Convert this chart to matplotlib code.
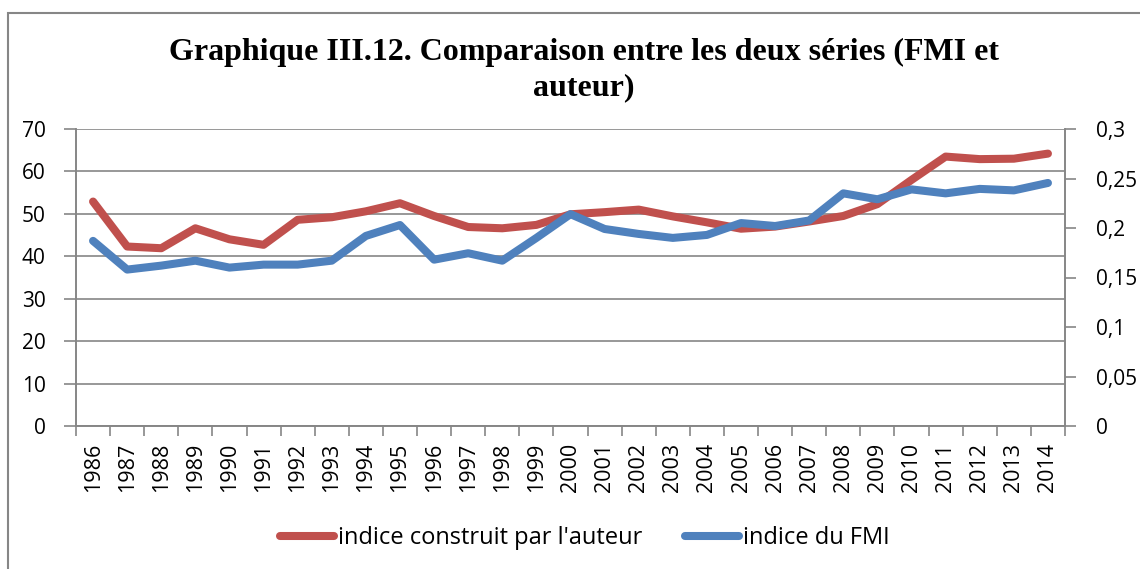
import numpy as np
import matplotlib
matplotlib.use("Agg")
import matplotlib.pyplot as plt
from matplotlib.patches import Rectangle
from matplotlib.ticker import FuncFormatter

years = list(range(1986, 2015))
# indice construit par l'auteur (axe de gauche)
auteur = [52.9, 42.3, 41.9, 46.6, 44.0, 42.7, 48.6, 49.2, 50.6, 52.5,
          49.5, 46.9, 46.6, 47.4, 49.9, 50.4, 51.0, 49.4, 48.0, 46.5,
          47.0, 48.2, 49.5, 52.3, 58.0, 63.5, 62.9, 63.0, 64.2]
# indice du FMI (axe de droite)
fmi = [0.187, 0.158, 0.162, 0.167, 0.160, 0.163, 0.163, 0.167, 0.192, 0.203,
       0.168, 0.1745, 0.167, 0.190, 0.214, 0.199, 0.194, 0.190, 0.193, 0.205,
       0.202, 0.2076, 0.235, 0.229, 0.239, 0.235, 0.2395, 0.238, 0.2455]

RED, BLUE, GREY = "#C0504D", "#4F81BD", "#868686"
plt.rcParams["font.family"] = ["Open Sans", "DejaVu Sans"]

fig = plt.figure(figsize=(11.4, 5.69), dpi=100)
fig.patches.append(Rectangle((8 / 1140, -0.05), 1.2, 1 - 13 / 569 + 0.05,
                             transform=fig.transFigure, fill=False,
                             ec=GREY, lw=1.5))
ax = fig.add_axes([76 / 1140, 1 - 426 / 569, (1065 - 76) / 1140, (426 - 129) / 569])
ax2 = ax.twinx()

x = np.arange(len(years))
l1, = ax.plot(x, auteur, c=RED, lw=5.8, solid_capstyle="round",
              solid_joinstyle="round", label="indice construit par l'auteur")
l2, = ax2.plot(x, fmi, c=BLUE, lw=5.8, solid_capstyle="round",
               solid_joinstyle="round", label="indice du FMI")

ax.set_xlim(-0.5, len(years) - 0.5)
ax.set_ylim(0, 70)
ax2.set_ylim(0, 0.3)
ax.set_yticks(range(0, 71, 10))
ax2.set_yticks(np.arange(0, 0.301, 0.05))
ax2.yaxis.set_major_formatter(FuncFormatter(
    lambda v, _: "0" if abs(v) < 1e-9 else f"{v:.2f}".rstrip("0").replace(".", ",")))
ax.set_xticks(x)
ax.set_xticklabels([str(y) for y in years], rotation=90, fontsize=15.5)
ax.set_xticks(np.arange(-0.5, len(years)), minor=True)
ax.tick_params(axis="x", which="major", length=0, pad=12)
ax.tick_params(axis="x", which="minor", length=7, color=GREY, width=1.2)
ax.tick_params(axis="y", length=9, color=GREY, width=1.2, labelsize=15, pad=13)
ax2.tick_params(axis="y", length=8, color=GREY, width=1.2, labelsize=15, pad=14)

ax.grid(axis="y", color=GREY, lw=1.2)
for a in (ax, ax2):
    a.spines["top"].set_visible(False)
    for s in ("left", "right", "bottom"):
        a.spines[s].set_color(GREY)
        a.spines[s].set_linewidth(1.2)

fig.text(0.512, 1 - 70 / 569, "Graphique III.12. Comparaison entre les deux séries (FMI et\nauteur)",
         ha="center", va="center", family="Liberation Serif", weight="bold",
         fontsize=23, linespacing=1.25)

fig.legend(handles=[l1, l2], loc="center", bbox_to_anchor=(0.513, 1 - 538 / 569),
           ncol=2, frameon=False, fontsize=17, handlelength=2.3,
           handletextpad=0.15, columnspacing=1.8)

fig.savefig("out.png", dpi=100)
